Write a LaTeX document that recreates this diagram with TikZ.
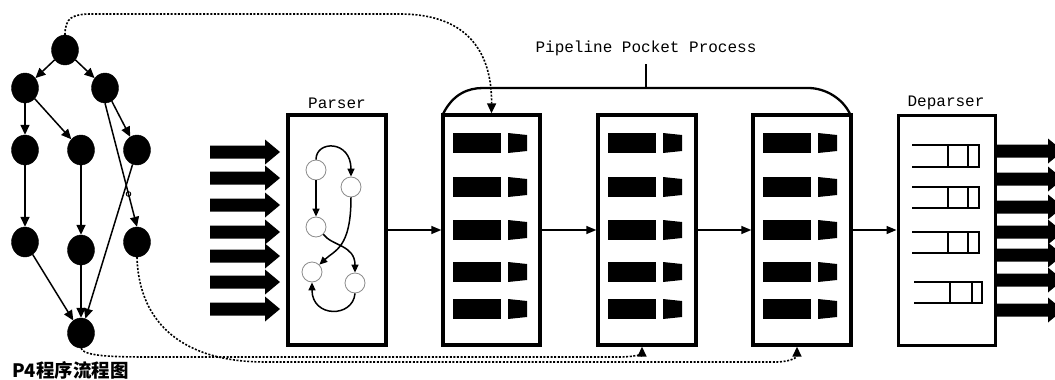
\documentclass[tikz,border=0pt]{standalone}
\usepackage{fontspec}
\usetikzlibrary{arrows.meta,shapes.geometric}
\newfontfamily\cjk{Noto Sans CJK SC}
\newfontfamily\mono{Liberation Mono}
\tikzset{
  gnode/.style={ellipse,fill=black,draw=black,minimum width=27pt,minimum height=30pt,inner sep=0pt},
  gedge/.style={line width=1.5pt,-{Triangle[length=10pt,width=9pt]}},
  pnode/.style={circle,draw=black!45,line width=0.8pt,fill=white,minimum size=20pt,inner sep=0pt},
  pedge/.style={line width=1.5pt,-{Triangle[length=8pt,width=7pt]}},
  bigbox/.style={draw=black,line width=3.4pt,minimum height=230pt,inner sep=0pt},
  lbl/.style={font=\mono\fontsize{16}{18}\selectfont,inner sep=0pt},
  flow/.style={line width=1.4pt,-{Triangle[length=10pt,width=8pt]}},
  dotline/.style={line width=1.6pt,dash pattern=on 2pt off 1.6pt,-{Triangle[length=10pt,width=9pt]}},
  fatarrow/.style={fill=black},
  deprow/.style={line width=2.3pt},
}
\begin{document}
\begin{tikzpicture}[x=1pt,y=-1pt]
\useasboundingbox (0,0) rectangle (1055,380);
\clip (0,0) rectangle (1055,380);

% ---------- left program graph ----------
\node[gnode] (r) at (65,50) {};
\node[gnode] (a) at (25,88) {};
\node[gnode] (b) at (105,88) {};
\node[gnode] (c) at (25,150) {};
\node[gnode] (d) at (81,150) {};
\node[gnode] (e) at (137,150) {};
\node[gnode] (f) at (25,242) {};
\node[gnode] (g) at (81,250) {};
\node[gnode] (h) at (137,242) {};
\node[gnode] (k) at (81,333) {};
\draw[gedge] (r) -- (a);
\draw[gedge] (r) -- (b);
\draw[gedge] (a) -- (c);
\draw[gedge] (a) -- (d);
\draw[gedge] (b) -- (e);
\draw[gedge] (b.south) -- (h.north);
\draw[gedge] (c) -- (f);
\draw[gedge] (d) -- (g);
\draw[gedge] (e) -- (k);
\draw[gedge] (f) -- (k);
\draw[gedge] (g) -- (k);
\draw[line width=0.9pt] (128.5,194) circle (2.3pt);

\node[font=\cjk\bfseries\fontsize{18.5}{20}\selectfont,anchor=west,inner sep=0pt] (title) at (12,370) {P4程序流程图};

% ---------- input arrows ----------
\foreach \y in {152,178,205,232,256,282,309}{
  \fill[fatarrow] (210,\y-6.5) -- (265,\y-6.5) -- (265,\y-12.5) -- (280,\y) -- (265,\y+12.5) -- (265,\y+6.5) -- (210,\y+6.5) -- cycle;
}
% ---------- output arrows ----------
\foreach \y in {151,179,207,232,255,280,310}{
  \fill[fatarrow] (995,\y-6.5) -- (1048,\y-6.5) -- (1048,\y-12.5) -- (1063,\y) -- (1048,\y+12.5) -- (1048,\y+6.5) -- (995,\y+6.5) -- cycle;
}

% ---------- boxes ----------
\node[bigbox,minimum width=98pt] (parser) at (337,230) {};
\node[bigbox,minimum width=97pt] (s1) at (491.5,230) {};
\node[bigbox,minimum width=98pt] (s2) at (647,230) {};
\node[bigbox,minimum width=98pt] (s3) at (802,230) {};
\node[bigbox,minimum width=97pt,line width=3pt] (dep) at (946.5,230) {};

\node[lbl] (lparser) at (337,103) {Parser};
\node[lbl] (ldep) at (946,103) {Deparser};
\node[lbl] (lpipe) at (646,48) {Pipeline Pocket Process};

% pipeline bracket
\coordinate (tick) at (646,64);
\draw[line width=2.3pt] (443,114) .. controls (453,94) and (468,88) .. (483,88) -- (808,88) .. controls (826,88) and (843,99) .. (850,114);
\draw[line width=2.3pt] (646,88) -- (tick);

% stage contents
\foreach \L in {443,598,753}{
  \foreach \y in {143,187,230,272,309}{
    \fill (\L+10,\y-10) rectangle (\L+58,\y+10);
    \fill (\L+65,\y-10) -- (\L+84,\y-8) -- (\L+84,\y+8) -- (\L+65,\y+10) -- cycle;
  }
}

% deparser contents
\foreach \xo/\xa/\xb/\xc/\ya/\yb in {912/948/968/979/145/167, 912/948/968/979/187/208, 912/948/968/979/232/253, 914/950/972/982/282/303}{
  \draw[deprow] (\xo,\ya) -- (\xc,\ya) -- (\xc,\yb) -- (\xo,\yb);
  \draw[deprow] (\xa,\ya) -- (\xa,\yb);
  \draw[deprow] (\xb,\ya) -- (\xb,\yb);
}

% flow connectors
\draw[flow] (parser) -- (s1);
\draw[flow] (s1) -- (s2);
\draw[flow] (s2) -- (s3);
\draw[flow] (s3) -- (dep);

% ---------- parser state machine ----------
\node[pnode] (c1) at (316,170) {};
\node[pnode] (c2) at (351,187) {};
\node[pnode] (c3) at (316,227) {};
\node[pnode] (c4) at (312,272) {};
\node[pnode] (c5) at (355,283) {};
\draw[pedge] (c1.north) .. controls (316,140) and (351,140) .. (c2.north);
\draw[pedge] (c1.south) -- (c3.north);
\draw[pedge] (c2.south) .. controls (351,248) and (335,250) .. (c4.north east);
\draw[pedge] (c3.south east) .. controls (332,246) and (355,245) .. (c5.north);
\draw[pedge] (c5.south) .. controls (353,318) and (312,318) .. (c4.south);

% ---------- dotted mapping lines ----------
\draw[dotline] (r.north) .. controls (65,18) and (72,14) .. (92,14) -- (400,14) .. controls (470,14) and (492,55) .. (s1.north);
\draw[dotline] (k.south) .. controls (84,356) and (110,357) .. (150,357) -- (620,357) .. controls (636,357) and (642,353) .. ([xshift=-5pt]s2.south);
\draw[dotline] (h.south) .. controls (139,325) and (185,362) .. (265,362) -- (775,362) .. controls (791,362) and (797,357) .. ([xshift=-5pt]s3.south);
\end{tikzpicture}
\end{document}
